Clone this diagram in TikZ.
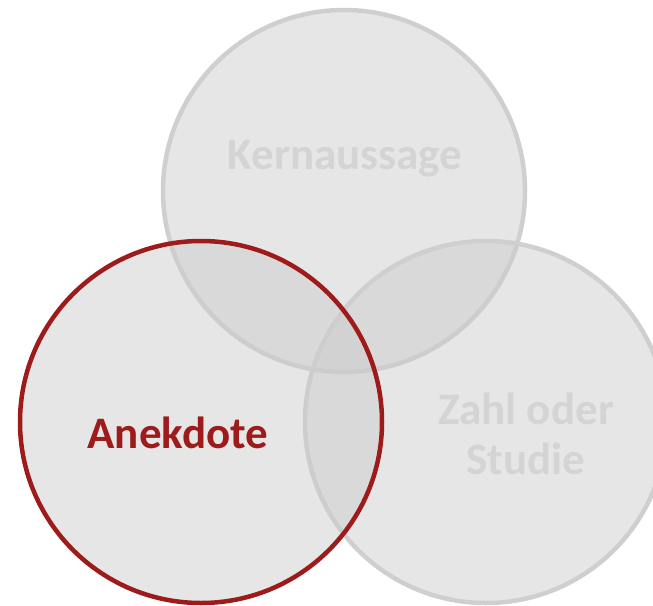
\documentclass[tikz,border=0pt]{standalone}
\usepackage{fontspec}
\setmainfont{Carlito}
\usepackage{tikz}
\usetikzlibrary{positioning}
\definecolor{ringgray}{RGB}{207,207,207}
\definecolor{fillgray}{RGB}{203,203,203}
\definecolor{labelgray}{RGB}{212,212,212}
\definecolor{anekred}{RGB}{158,27,27}
\tikzset{
    x=1pt,
    y=-1pt,
    set/.style = {
        draw=ringgray,
        shape=circle,
        fill=fillgray,
        fill opacity=0.48,
        draw opacity=1,
        minimum size=362pt,
        inner sep=0pt,
        line width=4.5pt
    },
    active/.style = {
        set,
        draw=anekred
    },
    caption/.style = {
        font=\bfseries\fontsize{45}{50}\selectfont,
        text=labelgray,
        align=center,
        anchor=base,
        inner sep=0pt
    }
}
\begin{document}
\begin{tikzpicture}
                \useasboundingbox (0,0) rectangle (653,605);
                \node[set] (kern) at (344,191) {};
                \node[set] (zahl) at (486,422) {};
                \node[active] (anek) at (201,422) {};

                \node[caption] (kerntext) at (345,169) {Kernaussage};
                \node[caption] (zahltext) at (526,474) {Zahl oder\\Studie};
                \node[caption, text=anekred] (anektext) at (178,448) {Anekdote};
\end{tikzpicture}
\end{document}
